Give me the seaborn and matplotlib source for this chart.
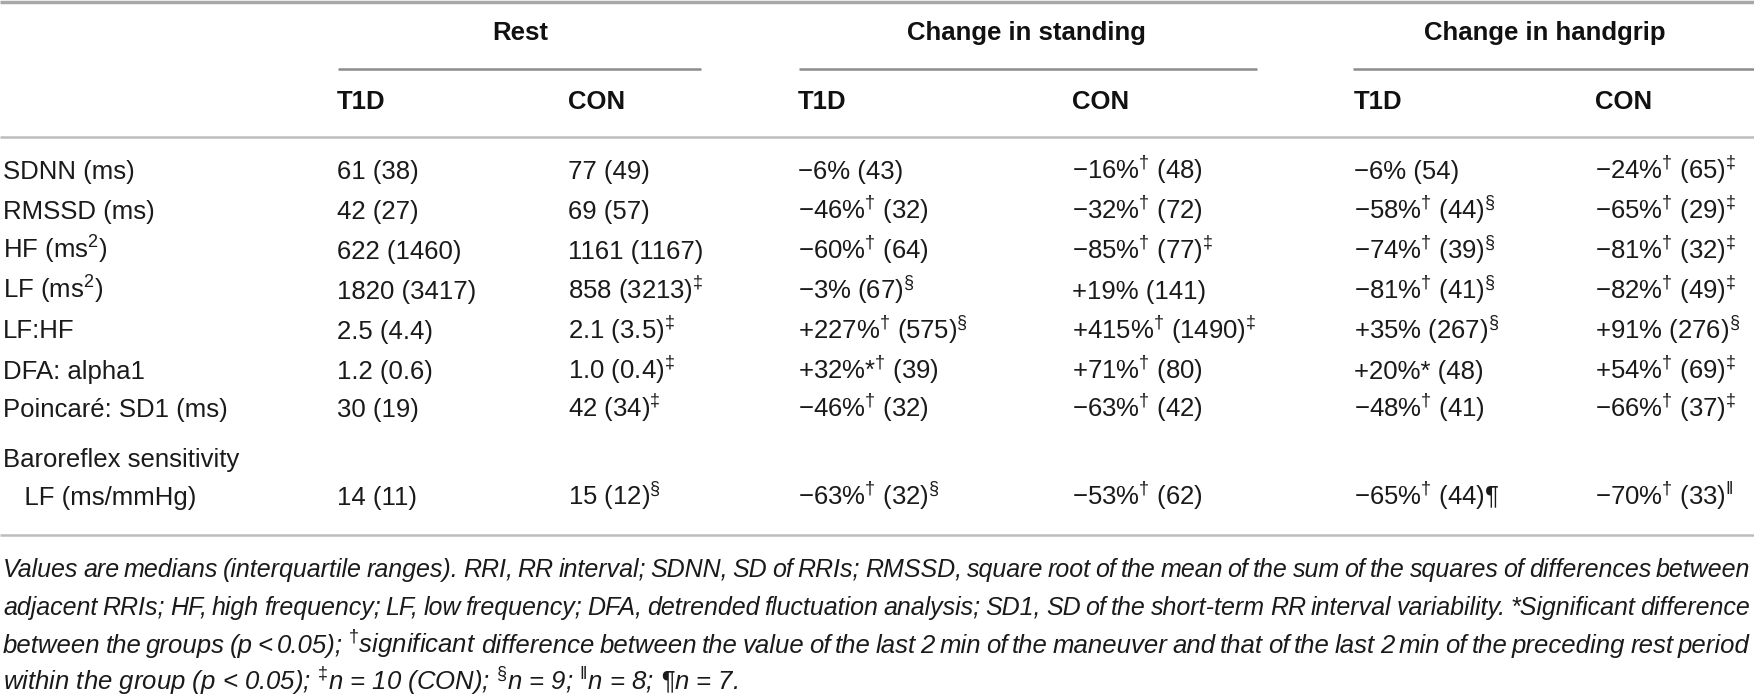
import matplotlib
matplotlib.use("Agg")
import matplotlib.pyplot as plt
import seaborn as sns

# ================================
# TABLE CONTENT
# ================================
D = r"$^{\dagger}$"
DD = r"$^{\ddagger}$"
S = r"$^{\S}$"

group_titles = ["Rest", "Change in standing", "Change in handgrip"]
sub_titles = ["T1D", "CON", "T1D", "CON", "T1D", "CON"]

row_labels = ["SDNN (ms)", "RMSSD (ms)", r"HF (ms$^{2}$)", r"LF (ms$^{2}$)", "LF:HF",
              "DFA: alpha1", "Poincaré: SD1 (ms)", "Baroreflex sensitivity", "   LF (ms/mmHg)"]

rest_t1d = ["61 (38)", "42 (27)", "622 (1460)", "1820 (3417)", "2.5 (4.4)",
            "1.2 (0.6)", "30 (19)", "", "14 (11)"]
rest_con = ["77 (49)", "69 (57)", "1161 (1167)", "858 (3213)" + DD, "2.1 (3.5)" + DD,
            "1.0 (0.4)" + DD, "42 (34)" + DD, "", "15 (12)" + S]
stand_t1d = ["−6% (43)", "−46%" + D + " (32)", "−60%" + D + " (64)", "−3% (67)" + S,
             "+227%" + D + " (575)" + S, "+32%*" + D + " (39)", "−46%" + D + " (32)", "",
             "−63%" + D + " (32)" + S]
stand_con = ["−16%" + D + " (48)", "−32%" + D + " (72)", "−85%" + D + " (77)" + DD, "+19% (141)",
             "+415%" + D + " (1490)" + DD, "+71%" + D + " (80)", "−63%" + D + " (42)", "",
             "−53%" + D + " (62)"]
grip_t1d = ["−6% (54)", "−58%" + D + " (44)" + S, "−74%" + D + " (39)" + S, "−81%" + D + " (41)" + S,
            "+35% (267)" + S, "+20%* (48)", "−48%" + D + " (41)", "", "−65%" + D + " (44)¶"]
grip_con = ["−24%" + D + " (65)" + DD, "−65%" + D + " (29)" + DD, "−81%" + D + " (32)" + DD,
            "−82%" + D + " (49)" + DD, "+91% (276)" + S, "+54%" + D + " (69)" + DD,
            "−66%" + D + " (37)" + DD, "", "−70%" + D + r" (33)$^{\Vert}$"]

footnote = [
    "Values are medians (interquartile ranges). RRI, RR interval; SDNN, SD of RRIs; RMSSD, square root of the mean of the sum of the squares of differences between",
    "adjacent RRIs; HF, high frequency; LF, low frequency; DFA, detrended fluctuation analysis; SD1, SD of the short-term RR interval variability. *Significant difference",
    "between the groups (p < 0.05); " + D + "significant difference between the value of the last 2 min of the maneuver and that of the last 2 min of the preceding rest period",
    "within the group (p < 0.05); " + DD + "n = 10 (CON); " + S + r"n = 9; $^{\Vert}$n = 8; ¶n = 7.",
]

# ================================
# LAYOUT (pixels)
# ================================
W, H = 1754, 696
col_x = [337, 568, 798, 1072, 1354, 1595]
group_x = [520, 1026, 1545]
underlines = [(338, 701), (799, 1257), (1353, 1754)]
row_y = [169, 209, 249, 289, 329, 369, 408, 457, 495]
foot_y = [569, 607, 645, 682]
body_size = 18.5

sns.set_theme(style="white")
plt.rcParams["font.family"] = ["Liberation Sans", "DejaVu Sans"]
plt.rcParams["mathtext.fontset"] = "custom"
plt.rcParams["mathtext.rm"] = "Liberation Sans"
plt.rcParams["mathtext.it"] = "Liberation Sans:italic"
plt.rcParams["mathtext.bf"] = "Liberation Sans:bold"

fig = plt.figure(figsize=(W / 100, H / 100), dpi=100)
ax = fig.add_axes([0, 0, 1, 1])
ax.set_xlim(0, W)
ax.set_ylim(H, 0)
ax.axis("off")

# rules
ax.hlines(1.5, 0, W, color="#a8a8a8", lw=2.5)
for x0, x1 in underlines:
    ax.hlines(69, x0, x1, color="#8c8c8c", lw=1.8)
ax.hlines(137, 0, W, color="#bdbdbd", lw=1.8)
ax.hlines(535, 0, W, color="#bdbdbd", lw=1.8)

# headers
for gx, title in zip(group_x, group_titles):
    ax.text(gx, 33, title, ha="center", va="center", fontsize=body_size, fontweight="bold", color="#111111")
for cx, title in zip(col_x, sub_titles):
    ax.text(cx, 109, title, ha="left", va="baseline", fontsize=body_size, fontweight="bold", color="#111111")

# body
columns = [rest_t1d, rest_con, stand_t1d, stand_con, grip_t1d, grip_con]
for i, label in enumerate(row_labels):
    base = row_y[i] + 9.5
    ax.text(3, base, label, ha="left", va="baseline", fontsize=body_size, color="#1a1a1a")
    for cx, col in zip(col_x, columns):
        if col[i]:
            ax.text(cx, base, col[i], ha="left", va="baseline", fontsize=body_size, color="#1a1a1a")

# footnote, justified except last line
fig.canvas.draw()
renderer = fig.canvas.get_renderer()
left, right = 3, 1750
foot_size = 18.5
for k, line in enumerate(footnote):
    base = foot_y[k] + 8
    if k == len(footnote) - 1:
        ax.text(left, base, line, ha="left", va="baseline", fontsize=foot_size, style="italic", color="#1a1a1a")
        continue
    words = line.split(" ")
    size = foot_size
    while True:
        arts = [ax.text(0, base, w, ha="left", va="baseline", fontsize=size, style="italic", color="#1a1a1a")
                for w in words]
        widths = [a.get_window_extent(renderer).width for a in arts]
        gap = (right - left - sum(widths)) / (len(words) - 1)
        if gap >= 4 or size < 14:
            break
        for a in arts:
            a.remove()
        size -= 0.25
    x = left
    for a, w in zip(arts, widths):
        a.set_x(x)
        x += w + gap

fig.savefig("out.png", dpi=100)
